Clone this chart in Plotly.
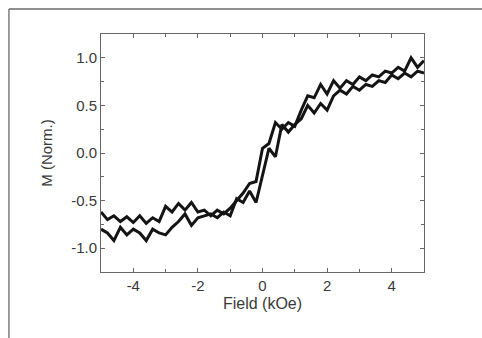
import plotly.graph_objects as go

field = [round(-5.0 + 0.2 * i, 1) for i in range(51)]

m_down = [-0.62, -0.70, -0.66, -0.72, -0.67, -0.73, -0.66, -0.74, -0.68, -0.72,
          -0.56, -0.62, -0.53, -0.60, -0.52, -0.62, -0.60, -0.66, -0.60, -0.64,
          -0.58, -0.50, -0.42, -0.32, -0.30, 0.05, 0.10, 0.32, 0.25, 0.32,
          0.28, 0.45, 0.60, 0.58, 0.72, 0.62, 0.76, 0.68, 0.76, 0.72,
          0.80, 0.76, 0.82, 0.80, 0.86, 0.84, 0.90, 0.86, 1.00, 0.90, 0.97]

m_up = [-0.80, -0.84, -0.92, -0.78, -0.86, -0.80, -0.84, -0.92, -0.80, -0.84,
        -0.86, -0.78, -0.72, -0.64, -0.76, -0.68, -0.66, -0.64, -0.68, -0.62,
        -0.66, -0.48, -0.52, -0.40, -0.52, -0.25, 0.05, -0.04, 0.30, 0.22,
        0.30, 0.36, 0.50, 0.42, 0.52, 0.45, 0.60, 0.66, 0.62, 0.70,
        0.66, 0.72, 0.70, 0.76, 0.74, 0.82, 0.78, 0.84, 0.80, 0.86, 0.84]

x_ticks = [-4, -2, 0, 2, 4]
y_ticks = [-1.0, -0.5, 0.0, 0.5, 1.0]

FONT = "Liberation Sans, Arial, sans-serif"

fig = go.Figure()
line = dict(color="#141414", width=3)
fig.add_trace(go.Scatter(x=field, y=m_down, mode="lines", line=line, showlegend=False))
fig.add_trace(go.Scatter(x=field, y=m_up, mode="lines", line=line, showlegend=False))

axis_common = dict(
    showgrid=False, zeroline=False, showline=True, linecolor="#666666", linewidth=1,
    mirror="ticks", ticks="inside", ticklen=4, tickcolor="#666666",
    tickfont=dict(family=FONT, size=15, color="#3a3a3a"),
)

fig.update_xaxes(
    range=[-5, 5], tickvals=x_ticks, ticktext=[str(v) for v in x_ticks],
    title=dict(text="Field (kOe)", font=dict(family=FONT, size=16, color="#3a3a3a"), standoff=4),
    minor=dict(ticks="inside", ticklen=3, dtick=1, tick0=0, tickcolor="#666666"),
    **axis_common,
)
fig.update_yaxes(
    range=[-1.25, 1.25], tickvals=y_ticks, ticktext=[f"{v:.1f}" for v in y_ticks],
    title=dict(text="M (Norm.)", font=dict(family=FONT, size=15, color="#3a3a3a"), standoff=14),
    minor=dict(ticks="inside", ticklen=3, dtick=0.25, tick0=0, tickcolor="#666666"),
    **axis_common,
)

fig.add_shape(type="line", xref="paper", yref="paper", x0=-0.285, x1=1.2, y0=1.105, y1=1.105,
              line=dict(color="#6a6a6a", width=1.3))
fig.add_shape(type="line", xref="paper", yref="paper", x0=-0.285, x1=-0.285, y0=1.105, y1=-0.3,
              line=dict(color="#6a6a6a", width=1.3))

fig.update_layout(
    width=482, height=338,
    margin=dict(l=101, r=58, t=34, b=66),
    paper_bgcolor="white", plot_bgcolor="white",
)

fig.write_html("out.html")
